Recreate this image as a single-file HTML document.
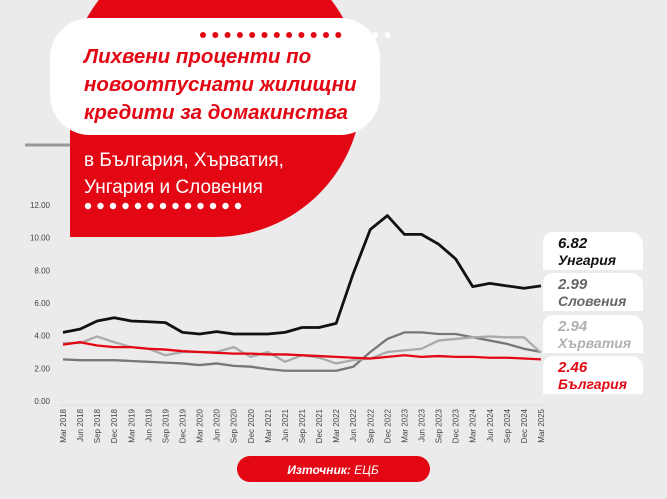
<!DOCTYPE html>
<html><head><meta charset="utf-8">
<style>
html,body{margin:0;padding:0;background:#ebebeb;}
body{width:667px;height:494px;position:relative;overflow:hidden;font-family:"Liberation Sans","DejaVu Sans",sans-serif;}
</style></head>
<body>
<svg width="667" height="494" viewBox="0 0 667 494" xmlns="http://www.w3.org/2000/svg">
<rect x="0" y="0" width="667" height="494" fill="#ebebeb"/>
<g id="header">
<circle cx="215" cy="90" r="147" fill="#e30613"/>
<rect x="70" y="90" width="145" height="147" fill="#e30613"/>
<line x1="25" y1="145" x2="70" y2="145" stroke="#999" stroke-width="3"/>
<rect x="50" y="18" width="330" height="117" rx="40" fill="#fff"/>
<text x="84" y="63" fill="#e30613" font-size="20.5" font-weight="bold" font-style="italic">Лихвени проценти по</text>
<text x="84" y="91" fill="#e30613" font-size="20.5" font-weight="bold" font-style="italic">новоотпуснати жилищни</text>
<text x="84" y="119" fill="#e30613" font-size="20.5" font-weight="bold" font-style="italic">кредити за домакинства</text>
<text x="84" y="166" fill="#fff" font-size="19">в България, Хърватия,</text>
<text x="84" y="193" fill="#fff" font-size="19">Унгария и Словения</text>
</g>
<g id="dots"></g>
<g id="axes"></g>
<g id="series"></g>
<g id="legend"></g>
<rect x="237" y="456" width="193" height="26" rx="13" fill="#e30613"/>
<text x="333" y="474" fill="#fff" font-size="12" font-style="italic" text-anchor="middle"><tspan font-weight="bold">Източник:</tspan> ЕЦБ</text>
</svg>
<script>
const xLabels=["Mar 2018","Jun 2018","Sep 2018","Dec 2018","Mar 2019","Jun 2019","Sep 2019","Dec 2019","Mar 2020","Jun 2020","Sep 2020","Dec 2020","Mar 2021","Jun 2021","Sep 2021","Dec 2021","Mar 2022","Jun 2022","Sep 2022","Dec 2022","Mar 2023","Jun 2023","Sep 2023","Dec 2023","Mar 2024","Jun 2024","Sep 2024","Dec 2024","Mar 2025"];
const yTicks=[0,2,4,6,8,10,12];
const hungary=[4.2,4.4,4.9,5.1,4.9,4.85,4.8,4.2,4.1,4.25,4.1,4.1,4.1,4.2,4.5,4.5,4.75,7.8,10.5,11.35,10.2,10.2,9.6,8.7,7.0,7.2,7.05,6.9,7.05];
const slovenia=[2.55,2.5,2.5,2.5,2.45,2.4,2.35,2.3,2.2,2.3,2.15,2.1,1.95,1.85,1.85,1.85,1.85,2.1,3.0,3.8,4.2,4.2,4.1,4.1,3.9,3.7,3.5,3.2,3.0];
const croatia=[3.55,3.55,3.95,3.6,3.3,3.2,2.8,3.0,3.0,3.0,3.3,2.7,3.0,2.4,2.8,2.65,2.3,2.5,2.6,3.0,3.1,3.2,3.7,3.8,3.9,3.95,3.9,3.9,2.95];
const bulgaria=[3.45,3.6,3.4,3.3,3.3,3.2,3.15,3.05,3.0,2.95,2.9,2.9,2.85,2.85,2.8,2.75,2.7,2.65,2.6,2.7,2.8,2.7,2.75,2.7,2.7,2.65,2.65,2.6,2.55];
const legendValues=["6.82","2.99","2.94","2.46"];
const legendNames=["Унгария","Словения","Хърватия","България"];
const NS="http://www.w3.org/2000/svg";
const X=i=>63+i*(541-63)/(xLabels.length-1);
const Y=v=>401-v*(401-205)/12;
function mk(t,a,p){const e=document.createElementNS(NS,t);for(const k in a)e.setAttribute(k,a[k]);p.appendChild(e);return e;}
const axes=document.getElementById('axes');
yTicks.forEach(v=>{const t=mk('text',{x:50,y:Y(v)+3,'font-size':8,'text-anchor':'end',fill:'#444'},axes);t.textContent=v.toFixed(2);

});
const base=mk('line',{x1:60,y1:405,x2:545,y2:405,stroke:'#ddd','stroke-width':1},axes);


xLabels.forEach((l,i)=>{const t=mk('text',{transform:`translate(${X(i)+3},409) rotate(-90)`,'font-size':8,'text-anchor':'end',fill:'#444'},axes);t.textContent=l;

});
const dots=document.getElementById('dots');
for(let i=0;i<13;i++){const c=mk('circle',{cx:88+i*12.5,cy:206,r:3.2,fill:'#fff'},dots);

}
for(let i=0;i<16;i++){const c=mk('circle',{cx:203+i*12.3,cy:35,r:3,fill:i<12?'#e30613':'#fff'},dots);

}
const series=document.getElementById('series');
[[slovenia,'#777','slovenia-line'],[croatia,'#aaa','croatia-line'],[bulgaria,'#e30613','bulgaria-line'],[hungary,'#111','hungary-line']].forEach(([d,c,n])=>{
const p=mk('polyline',{points:d.map((v,i)=>X(i)+','+Y(v)).join(' '),fill:'none',stroke:c,'stroke-width':n==='hungary-line'?2.8:2.3,'stroke-linejoin':'round'},series);

});
const leg=document.getElementById('legend');
const cols=['#111','#666','#b0b0b0','#e30613'];const tops=[232,273,315,356];
legendNames.forEach((n,i)=>{const g=mk('g',{},leg);


mk('path',{d:`M543,${tops[i]+10} a10,10 0 0 1 10,-10 h78 a12,12 0 0 1 12,12 v26 h-100 z`,fill:'#fff'},g);
const a=mk('text',{x:558,y:tops[i]+16,'font-size':15,'font-weight':'bold','font-style':'italic',fill:cols[i]},g);a.textContent=legendValues[i];
const b=mk('text',{x:558,y:tops[i]+33,'font-size':14,'font-weight':'bold','font-style':'italic',fill:cols[i]},g);b.textContent=n;});
</script>
</body></html>
